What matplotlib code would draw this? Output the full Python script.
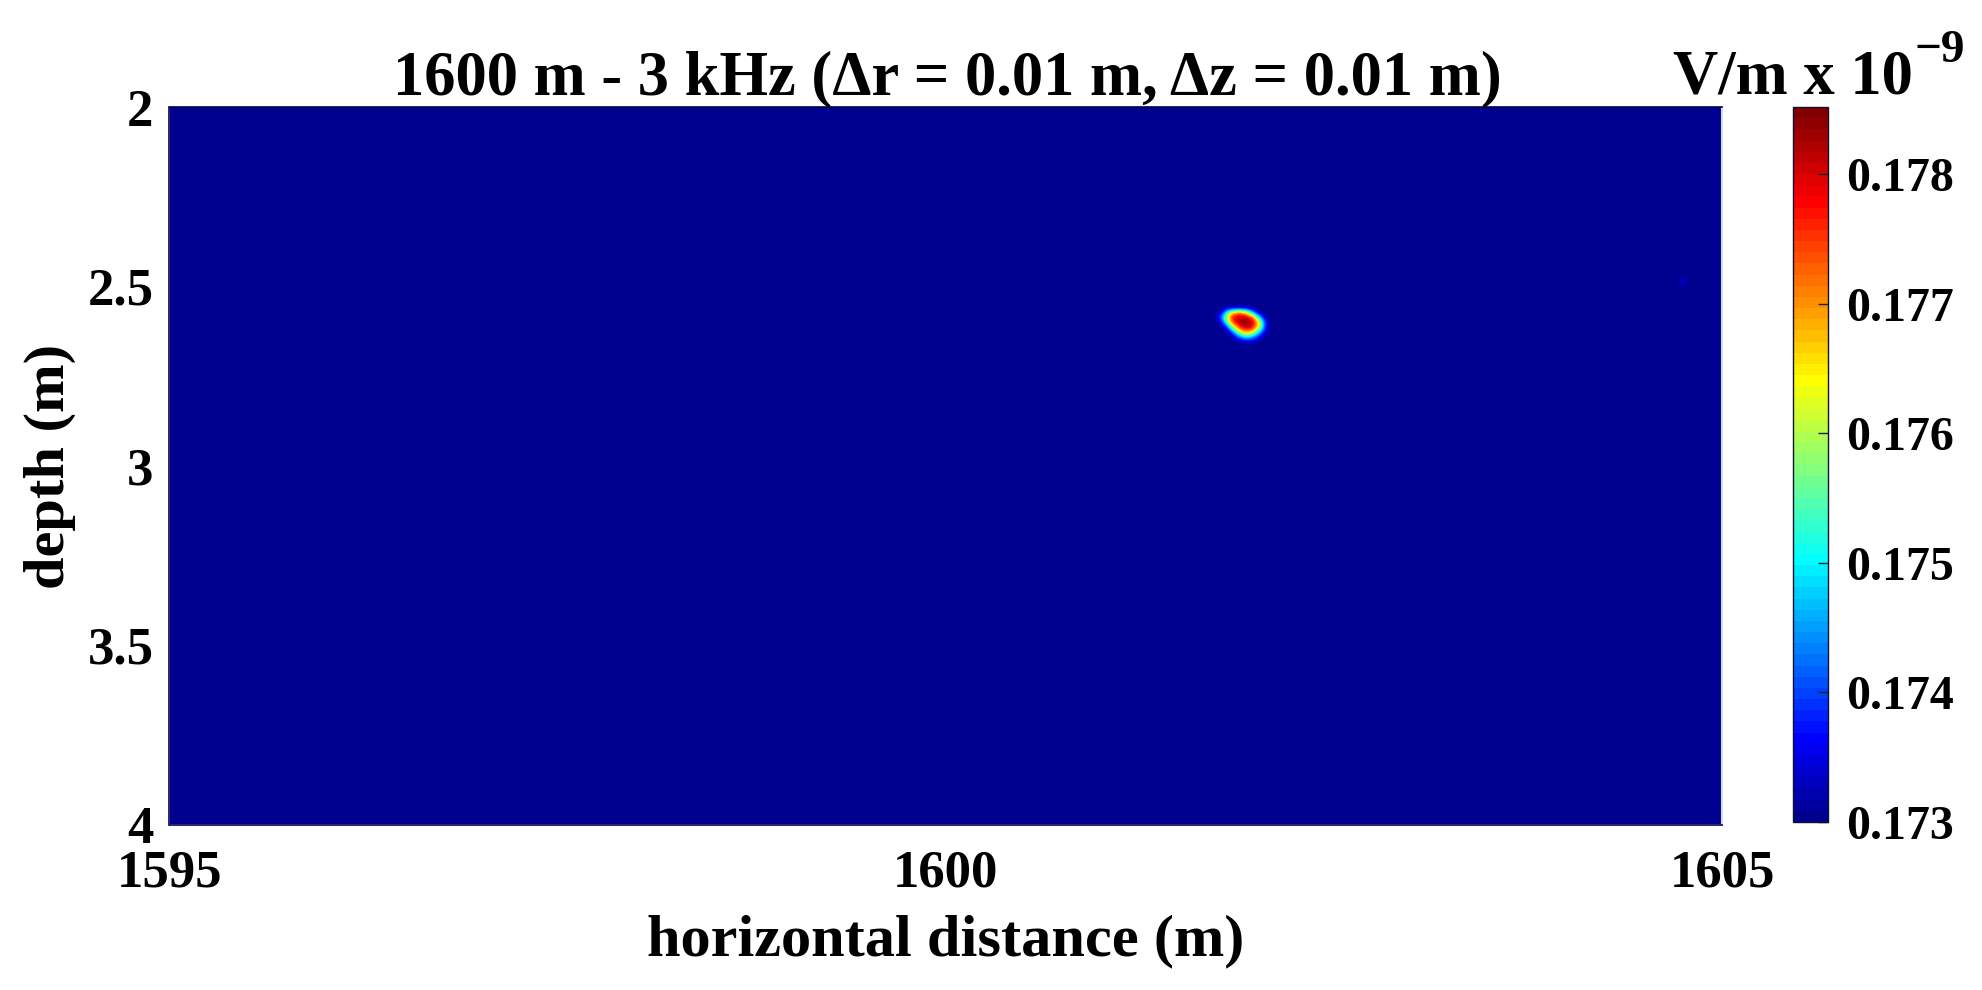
import matplotlib
matplotlib.use("Agg")
import matplotlib.pyplot as plt
from matplotlib.colors import LinearSegmentedColormap, Normalize

plt.rcParams['font.family'] = ['Liberation Serif', 'DejaVu Serif']
plt.rcParams['font.weight'] = 'bold'

W, H = 1983, 990
FS_TICK = 38
FS_CBAR = 34.5
FS_TITLE = 45
FS_XLABEL = 43.5
FS_YLABEL = 42

# Data
r_limits = [1595, 1605]
z_limits = [4, 2]
r_ticks = [1595, 1600, 1605]
z_ticks = [2, 2.5, 3, 3.5, 4]
z_tick_labels = ['2', '2.5', '3', '3.5', '4']
c_ticks = [0.173, 0.174, 0.175, 0.176, 0.177, 0.178]
c_limits = [0.173, 0.17852]
field_floor = 0.173

spot_r = [1601.75, 1601.78, 1601.81, 1601.85, 1601.88, 1601.91, 1601.94, 1601.97, 1602.01, 1602.04, 1602.07]
spot_z = [2.562, 2.576, 2.590, 2.604, 2.618, 2.632, 2.646, 2.660]
spot_values = [
    [.1730, .1730, .1731, .1731, .1731, .1731, .1730, .1730, .1730, .1730, .1730],
    [.1730, .1738, .1755, .1768, .1774, .1772, .1764, .1748, .1734, .1730, .1730],
    [.1733, .1747, .1765, .1777, .1781, .1782, .1781, .1777, .1758, .1741, .1730],
    [.1730, .1738, .1755, .1773, .1780, .1785, .1785, .1780, .1771, .1752, .1733],
    [.1730, .1730, .1738, .1755, .1769, .1777, .1780, .1777, .1766, .1749, .1732],
    [.1730, .1730, .1730, .1738, .1752, .1763, .1766, .1760, .1749, .1738, .1730],
    [.1730, .1730, .1730, .1730, .1736, .1741, .1744, .1741, .1736, .1731, .1730],
    [.1730, .1730, .1730, .1730, .1730, .1730, .1730, .1730, .1730, .1730, .1730],
]

dot_r = [1604.72, 1604.75, 1604.78]
dot_z = [2.476, 2.490, 2.504]
dot_values = [
    [.1730, .1731, .1730],
    [.1731, .1736, .1731],
    [.1730, .1731, .1730],
]

# MATLAB-style jet with 64 steps
jet64 = LinearSegmentedColormap.from_list('jet64', [
    (0.0, (0, 0, 0.5625)),
    (7 / 63, (0, 0, 1)),
    (23 / 63, (0, 1, 1)),
    (39 / 63, (1, 1, 0)),
    (55 / 63, (1, 0, 0)),
    (1.0, (0.5, 0, 0)),
], N=64)
norm = Normalize(*c_limits)

fig = plt.figure(figsize=(W / 100, H / 100), dpi=100, facecolor='white')


def box(x0, y0, x1, y1):
    return [x0 / W, 1 - y1 / H, (x1 - x0) / W, (y1 - y0) / H]


ax = fig.add_axes(box(169.5, 107, 1722, 824.5))
full_extent = [r_limits[0], r_limits[1], z_limits[0], z_limits[1]]
base = ax.imshow([[field_floor]], cmap=jet64, norm=norm, extent=full_extent, aspect='auto')


def patch(r, z, values):
    dr = (r[-1] - r[0]) / (len(r) - 1) / 2
    dz = (z[-1] - z[0]) / (len(z) - 1) / 2
    ax.imshow(values, cmap=jet64, norm=norm, aspect='auto', interpolation='bicubic',
              extent=[r[0] - dr, r[-1] + dr, z[-1] + dz, z[0] - dz])


patch(spot_r, spot_z, spot_values)
patch(dot_r, dot_z, dot_values)
ax.set_xlim(r_limits)
ax.set_ylim(z_limits)

ax.set_xticks(r_ticks)
ax.set_xticklabels([str(t) for t in r_ticks])
ax.set_yticks(z_ticks)
ax.set_yticklabels(z_tick_labels)
ax.tick_params(axis='both', length=0, labelsize=FS_TICK)
ax.tick_params(axis='x', pad=18)
ax.tick_params(axis='y', pad=11.5)
for side in ['left', 'top', 'bottom']:
    ax.spines[side].set_color('#000050')
    ax.spines[side].set_linewidth(1.2)
ax.spines['right'].set_color('#d8d8f4')
ax.spines['right'].set_linewidth(1.5)

fig.text(947 / W, 1 - 94 / H, '1600 m - 3 kHz (\u0394r = 0.01 m, \u0394z = 0.01 m)',
         ha='center', va='baseline', fontsize=FS_TITLE)
fig.text(946 / W, 1 - 941 / H, 'horizontal distance (m)', ha='center', va='center', fontsize=FS_XLABEL)
fig.text(50 / W, 1 - 466 / H, 'depth (m)', ha='center', va='center', rotation=90, fontsize=FS_YLABEL)

fig.text(1673 / W, 1 - 94 / H, 'V/m x 10', ha='left', va='baseline', fontsize=FS_TITLE)
fig.text(1915 / W, 1 - 62 / H, '\u22129', ha='left', va='baseline', fontsize=34)

cax = fig.add_axes(box(1793, 107, 1828, 822))
cb = fig.colorbar(base, cax=cax, ticks=c_ticks)
cb.ax.set_yticklabels([f'{t:.3f}' for t in c_ticks])
cb.ax.tick_params(axis='y', direction='in', length=7, width=1, labelsize=FS_CBAR, pad=13, color='#202020')
cb.outline.set_edgecolor('#101030')
cb.outline.set_linewidth(1)

fig.savefig('out.png', dpi=100)
